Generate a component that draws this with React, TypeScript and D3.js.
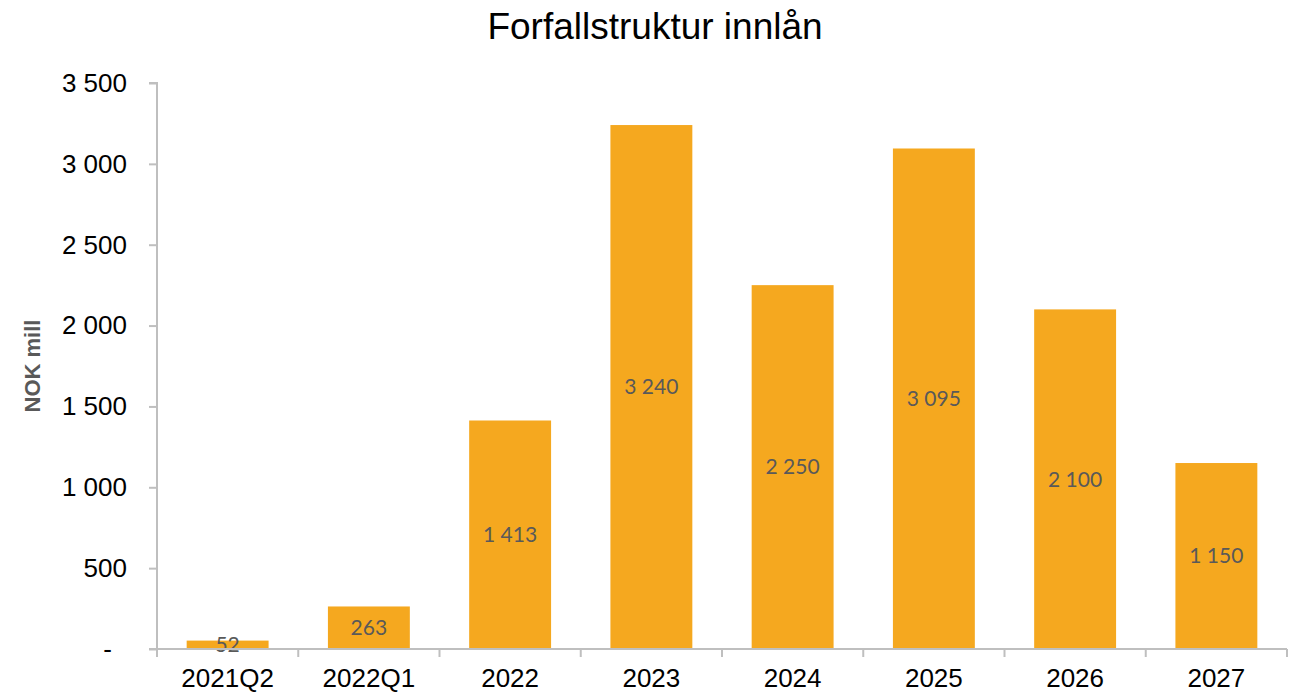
import React, { useEffect, useRef } from 'react';
import * as d3 from 'd3';

const categories = ['2021Q2', '2022Q1', '2022', '2023', '2024', '2025', '2026', '2027'];
const values = [52, 263, 1413, 3240, 2250, 3095, 2100, 1150];
const yTicks = [0, 500, 1000, 1500, 2000, 2500, 3000, 3500];

const fmt = (v: number) => (v === 0 ? '-' : d3.format(',')(v).replace(/,/g, ' '));

const App = () => {
  const ref = useRef<SVGSVGElement>(null);

  const graph = () => {
    const svg = d3.select(ref.current);
    svg.selectAll('*').remove();

    const width = 1296,
      height = 694,
      margin = { top: 83, right: 9, bottom: 45, left: 157 };

    const x = d3.scaleBand()
      .domain(categories)
      .range([margin.left, width - margin.right])
      .paddingInner(0.42)
      .paddingOuter(0.21);

    const y = d3.scaleLinear()
      .domain([0, 3500])
      .range([height - margin.bottom, margin.top]);

    const axisColor = '#bfbfbf';

    // title
    svg.append('text')
      .attr('x', 655).attr('y', 39)
      .attr('text-anchor', 'middle')
      .style('font-family', 'Arial, "Liberation Sans", sans-serif')
      .style('font-size', '37px')
      .style('fill', '#000')
      .text('Forfallstruktur innlån');

    // y axis title
    svg.append('text')
      .attr('transform', `translate(40, ${366}) rotate(-90)`)
      .attr('text-anchor', 'middle')
      .style('font-family', 'Arial, "Liberation Sans", sans-serif')
      .style('font-size', '22px')
      .style('font-weight', '700')
      .style('fill', '#595959')
      .text('NOK mill');

    // bars
    svg.selectAll('rect.bar')
      .data(values)
      .enter()
      .append('rect')
      .attr('class', 'bar')
      .attr('fill', '#f5a81f')
      .attr('x', (d, i) => x(categories[i]) as number)
      .attr('width', x.bandwidth())
      .attr('y', d => y(d))
      .attr('height', d => y(0) - y(d));

    // value labels, centred in bar
    svg.selectAll('text.val')
      .data(values)
      .enter()
      .append('text')
      .attr('class', 'val')
      .attr('x', (d, i) => (x(categories[i]) as number) + x.bandwidth() / 2)
      .attr('y', d => (y(d) + y(0)) / 2)
      .attr('dy', '0.35em')
      .attr('text-anchor', 'middle')
      .style('font-family', 'Lato, "Open Sans", sans-serif')
      .style('font-size', '21px')
      .style('fill', '#595959')
      .text(d => fmt(d));

    // y axis
    const yAxis = svg.append('g')
      .attr('transform', `translate(${margin.left}, 0)`)
      .call(d3.axisLeft(y).tickValues(yTicks).tickSize(8).tickPadding(22).tickFormat(d => fmt(d as number)));
    yAxis.selectAll('path, line').style('stroke', axisColor).style('stroke-width', 2);
    yAxis.select('.domain').attr('d', `M-8,${y(3500)}H0V${y(0)}`);
    yAxis.selectAll('text')
      .style('font-family', 'Arial, "Liberation Sans", sans-serif')
      .style('font-size', '26px')
      .style('fill', '#000')
      .attr('dx', d => ((d as number) === 0 ? -15 : 0));

    // x axis with ticks between categories
    const xAxis = svg.append('g')
      .attr('transform', `translate(0, ${y(0)})`);
    xAxis.append('line')
      .attr('x1', margin.left - 8).attr('x2', width - margin.right)
      .attr('y1', 0).attr('y2', 0)
      .style('stroke', axisColor).style('stroke-width', 2);
    const step = x.step();
    const bounds = d3.range(categories.length + 1).map(i => margin.left + i * step);
    xAxis.selectAll('line.tk')
      .data(bounds)
      .enter()
      .append('line')
      .attr('class', 'tk')
      .attr('x1', d => d).attr('x2', d => d)
      .attr('y1', 0).attr('y2', 8)
      .style('stroke', axisColor).style('stroke-width', 2);
    xAxis.selectAll('text.xl')
      .data(categories)
      .enter()
      .append('text')
      .attr('class', 'xl')
      .attr('x', d => (x(d) as number) + x.bandwidth() / 2)
      .attr('y', 38)
      .attr('text-anchor', 'middle')
      .style('font-family', 'Arial, "Liberation Sans", sans-serif')
      .style('font-size', '26px')
      .style('fill', '#000')
      .text(d => d);
  };

  useEffect(() => graph());

  return (
    <svg ref={ref} width="1296" height="694" style={{ position: 'absolute', left: 0, top: 0 }}></svg>
  );
};

export default App;
